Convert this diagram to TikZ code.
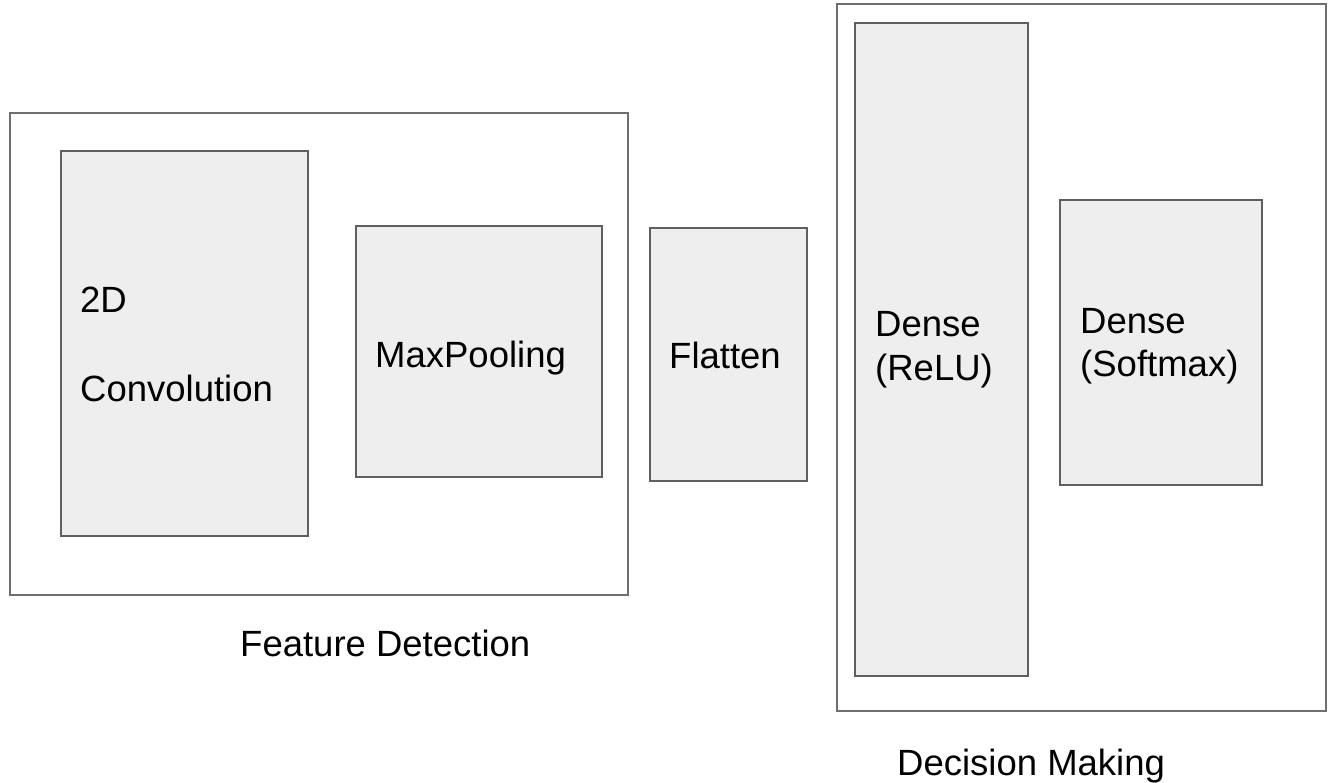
\documentclass[tikz,border=0pt]{standalone}
\usepackage{fontspec}
\setmainfont{Liberation Sans}
\definecolor{boxfill}{HTML}{EEEEEE}
\definecolor{boxline}{HTML}{5F5F5F}
\definecolor{outerline}{HTML}{6E6E6E}
\begin{document}
\begin{tikzpicture}[x=1pt,y=-1pt,
  layerbox/.style={draw=boxline,fill=boxfill,line width=2pt},
  groupbox/.style={draw=outerline,line width=2pt},
  lbl/.style={anchor=base west,inner sep=0pt,font=\fontsize{36.5}{44}\selectfont}]
\useasboundingbox (0,0) rectangle (1338,783);
% groups
\draw[groupbox] (10,113) rectangle (628,595);
\draw[groupbox] (837,4) rectangle (1326,711);
% layers
\draw[layerbox] (61,151) rectangle (308,536);
\draw[layerbox] (356,226) rectangle (602,477);
\draw[layerbox] (650,228) rectangle (807,481);
\draw[layerbox] (855,23) rectangle (1028,676);
\draw[layerbox] (1060,200) rectangle (1262,485);
% texts
\node[lbl] (t2d) at (80,313) {2D};
\node[lbl] (tconv) at (80,401) {Convolution};
\node[lbl] (tmax) at (375,367) {MaxPooling};
\node[lbl] (tflat) at (669,368) {Flatten};
\node[lbl] (td1) at (875,337) {Dense};
\node[lbl] (trelu) at (875,381) {(ReLU)};
\node[lbl] (td2) at (1080,334) {Dense};
\node[lbl] (tsoft) at (1080,376) {(Softmax)};
\node[lbl] (tfeat) at (240,656) {Feature Detection};
\node[lbl] (tdec) at (897,775) {Decision Making};
\end{tikzpicture}
\end{document}
